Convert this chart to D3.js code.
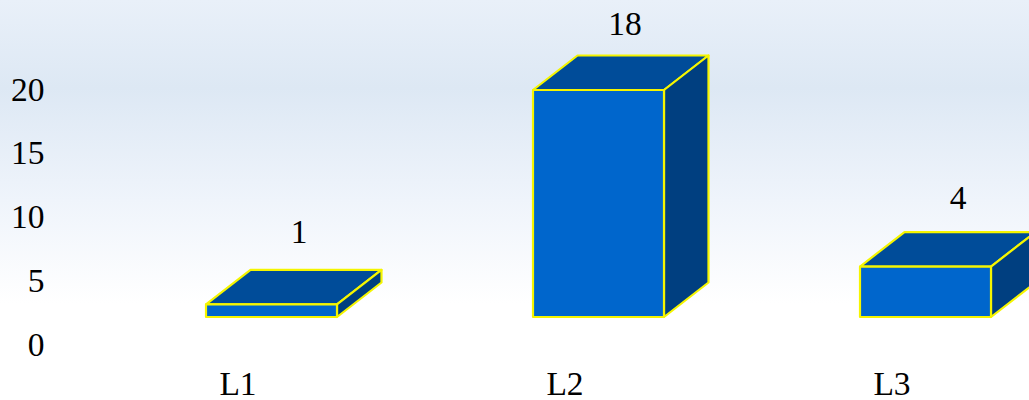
<!DOCTYPE html>
<html><head><meta charset="utf-8">
<script src="https://cdn.jsdelivr.net/npm/d3@7"></script>
<style>html,body{margin:0;padding:0;background:#fff;overflow:hidden}svg{display:block}text{font-family:"Liberation Serif",serif;fill:#000}</style>
</head><body><svg id="c" width="1029" height="400"></svg>
<script>
const categories = ["L1","L2","L3"];
const seriesValues = [1,18,4];
const tickValues = [0,5,10,15,20];
const svg = d3.select("#c");
const defs = svg.append("defs");
const g = defs.append("linearGradient").attr("id","bg").attr("x1",0).attr("y1",0).attr("x2",0).attr("y2",1);
[[0,"#e9f0f9"],[0.22,"#dde8f4"],[0.5,"#eff4fb"],[0.76,"#ffffff"],[1,"#ffffff"]].forEach(s=>g.append("stop").attr("offset",s[0]).attr("stop-color",s[1]));
svg.append("rect").attr("width",1029).attr("height",400).attr("fill","url(#bg)");

const fs = 33.5, depthX = 44.5, depthY = 34.5, barW = 131;
const x = d3.scalePoint().domain(categories).range([271.5,925.5]);
const yBar = d3.scaleLinear().domain([0,18]).range([317,90]);
const yTick = d3.scaleLinear().domain([0,20]).range([344.5,89.5]);
const labelX = d3.scaleOrdinal().domain(seriesValues).range([299,625,958]);
const labelY = d3.scaleLinear().domain([1,4,18]).range([243,209,35]);

const axis = d3.axisLeft(yTick).tickValues(tickValues).tickSize(0).tickPadding(0);
const ag = svg.append("g").attr("transform","translate(44.5,0)").call(axis);
ag.select(".domain").remove();
ag.selectAll("text").attr("font-size",fs).attr("font-family",'"Liberation Serif",serif').attr("fill","#000");

const xAxis = d3.axisBottom(x).tickSize(0).tickPadding(0);
const xg = svg.append("g").attr("transform","translate(-34,371)").call(xAxis);
xg.select(".domain").remove();
xg.selectAll("text").attr("font-size",fs).attr("font-family",'"Liberation Serif",serif').attr("fill","#000");

const stroke = {stroke:"#f5f500","stroke-width":2.2,"stroke-linejoin":"round"};
const data = categories.map((c,i)=>({c,v:seriesValues[i]}));
const bars = svg.selectAll("g.bar").data(data).join("g").attr("class","bar");
const line = d3.line();
function face(sel,fill,pts){const p=sel.append("path").attr("fill",fill).attr("d",d=>line(pts(d))+"Z");Object.entries(stroke).forEach(([k,v])=>p.attr(k,v));}
const L=d=>x(d.c)-barW/2, R=d=>x(d.c)+barW/2, T=d=>yBar(d.v), B=()=>yBar(0);
face(bars,"#004c99",d=>[[L(d),T(d)],[L(d)+depthX,T(d)-depthY],[R(d)+depthX,T(d)-depthY],[R(d),T(d)]]);
face(bars,"#003f80",d=>[[R(d),T(d)],[R(d)+depthX,T(d)-depthY],[R(d)+depthX,B()-depthY],[R(d),B()]]);
face(bars,"#0066cc",d=>[[L(d),T(d)],[R(d),T(d)],[R(d),B()],[L(d),B()]]);
bars.append("text").attr("x",d=>labelX(d.v)).attr("y",d=>labelY(d.v)).attr("text-anchor","middle").attr("font-size",fs).text(d=>d.v);
</script></body></html>
